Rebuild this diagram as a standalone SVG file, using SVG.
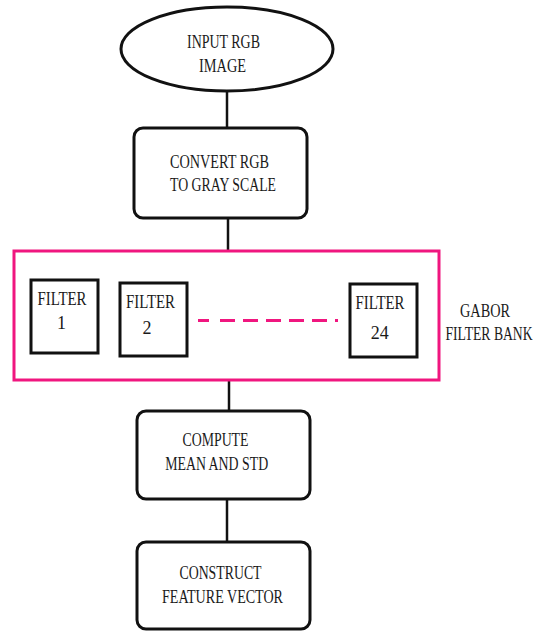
<svg xmlns="http://www.w3.org/2000/svg" width="538" height="632" viewBox="0 0 538 632">
<style>
.n{fill:#fff;stroke:#111;stroke-width:3}
.t{font-family:"Liberation Serif","Times New Roman",serif;font-size:18px;fill:#1a1a1a}
.c{stroke:#111;stroke-width:2.5;fill:none}
.pk{fill:none;stroke:#f0167f;stroke-width:3}
</style>
<rect width="538" height="632" fill="#fff"/>
<g id="connectors">
<line class="c" x1="227" y1="91" x2="227" y2="128"/>
<line class="c" x1="228" y1="218" x2="228" y2="251"/>
<line class="c" x1="229" y1="380" x2="229" y2="411"/>
<line class="c" x1="227" y1="499" x2="227" y2="542"/>
</g>
<g id="input">
<ellipse class="n" cx="227" cy="49" rx="106" ry="42"/>
<text class="t" x="223.5" y="48" text-anchor="middle" textLength="73" lengthAdjust="spacingAndGlyphs">INPUT RGB</text>
<text class="t" x="222.5" y="72" text-anchor="middle" textLength="47" lengthAdjust="spacingAndGlyphs">IMAGE</text>
</g>
<g id="convert">
<rect class="n" x="134" y="128" width="173" height="90" rx="9"/>
<text class="t" x="219.5" y="168" text-anchor="middle" textLength="99" lengthAdjust="spacingAndGlyphs">CONVERT RGB</text>
<text class="t" x="223" y="191" text-anchor="middle" textLength="106" lengthAdjust="spacingAndGlyphs">TO GRAY SCALE</text>
</g>
<g id="gabor">
<rect class="pk" x="14" y="251" width="425" height="129"/>
<line x1="198" y1="320.5" x2="338" y2="320.5" stroke="#f0167f" stroke-width="3" stroke-dasharray="11 11 15 8 15 8 15 8 15 8 15 8 7"/>
<text class="t" x="485" y="317" text-anchor="middle" textLength="50" lengthAdjust="spacingAndGlyphs">GABOR</text>
<text class="t" transform="translate(489,340) scale(0.76,1)" x="0" y="0" text-anchor="middle">FILTER BANK</text>
</g>
<g id="filter1">
<rect class="n" x="31" y="280" width="67" height="73"/>
<text class="t" x="62" y="304.5" text-anchor="middle" textLength="49" lengthAdjust="spacingAndGlyphs">FILTER</text>
<text class="t" x="61.5" y="328.5" text-anchor="middle">1</text>
</g>
<g id="filter2">
<rect class="n" x="120" y="283" width="67" height="73"/>
<text class="t" x="150.5" y="308" text-anchor="middle" textLength="49" lengthAdjust="spacingAndGlyphs">FILTER</text>
<text class="t" x="147" y="333.5" text-anchor="middle">2</text>
</g>
<g id="filter24">
<rect class="n" x="350" y="284" width="67" height="73"/>
<text class="t" x="380" y="309" text-anchor="middle" textLength="49" lengthAdjust="spacingAndGlyphs">FILTER</text>
<text class="t" x="379.7" y="339" text-anchor="middle">24</text>
</g>
<g id="compute">
<rect class="n" x="137" y="411" width="173" height="88" rx="9"/>
<text class="t" x="215.5" y="446" text-anchor="middle" textLength="66" lengthAdjust="spacingAndGlyphs">COMPUTE</text>
<text class="t" x="216.7" y="470" text-anchor="middle" textLength="103" lengthAdjust="spacingAndGlyphs">MEAN AND STD</text>
</g>
<g id="construct">
<rect class="n" x="137" y="542" width="173" height="87" rx="9"/>
<text class="t" x="220.5" y="579" text-anchor="middle" textLength="82" lengthAdjust="spacingAndGlyphs">CONSTRUCT</text>
<text class="t" x="222.5" y="603" text-anchor="middle" textLength="121" lengthAdjust="spacingAndGlyphs">FEATURE VECTOR</text>
</g>
</svg>
